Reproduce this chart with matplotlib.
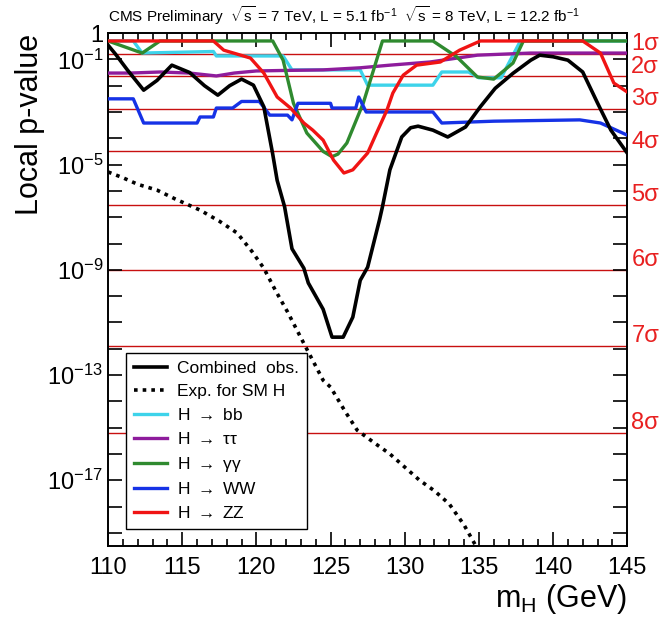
import numpy as np
import matplotlib
matplotlib.use("Agg")
import matplotlib.pyplot as plt

plt.rcParams['font.family'] = ['Liberation Sans', 'DejaVu Sans']
plt.rcParams['mathtext.fontset'] = 'custom'
plt.rcParams['mathtext.rm'] = 'Liberation Sans'
plt.rcParams['mathtext.it'] = 'Liberation Sans:italic'
plt.rcParams['mathtext.bf'] = 'Liberation Sans:bold'

# data: log10(local p-value) vs mH (GeV)
comb_m = [110, 110.5, 111.3, 112.4, 113.3, 114.3, 115.5, 116.5, 117.4, 118.2, 119.0, 119.8,
          120.5, 121.1, 121.4, 121.9, 122.4, 123.2, 123.5, 124.0, 124.5, 125.1, 125.85, 126.5,
          127.0, 127.5, 128.3, 128.5, 129.0, 129.8, 130.4, 130.9, 131.9, 132.9, 134.1, 135.1,
          136.1, 137.3, 138.5, 139.1, 140.0, 141.0, 142.0, 143.0, 143.9, 145.0]
comb_lp = [-0.46, -0.8, -1.4, -2.17, -1.8, -1.22, -1.5, -2.0, -2.36, -2.0, -1.75, -1.98,
           -2.8, -4.6, -5.6, -6.6, -8.2, -8.94, -9.5, -10.0, -10.5, -11.56, -11.56, -10.8,
           -9.4, -8.9, -7.1, -6.6, -5.2, -3.95, -3.6, -3.54, -3.69, -3.95, -3.57, -2.8,
           -2.1, -1.53, -1.03, -0.84, -0.9, -1.03, -1.48, -2.66, -3.69, -4.56]

exp_m = [110, 111, 112, 113.3, 114.5, 116.2, 117.5, 118.7, 119.7, 120.5, 121.3, 122.1, 123.2,
         124.5, 125.0, 126.0, 126.8, 128.0, 129.0, 130.0, 131.0, 132.0, 133.0, 134.0, 134.8]
exp_lp = [-5.28, -5.5, -5.75, -5.97, -6.3, -6.73, -7.15, -7.6, -8.3, -8.94, -9.8, -10.6, -11.8,
          -13.2, -13.46, -14.4, -15.1, -15.6, -16.0, -16.5, -17.0, -17.4, -17.9, -18.7, -19.5]

bb_m = [110, 111.7, 112.3, 117.1, 117.3, 121.8, 122.4, 127.0, 127.5, 131.9, 132.5, 134.3,
        135.0, 136.5, 137.8, 145]
bb_lp = [-0.3, -0.3, -0.76, -0.7, -0.87, -0.87, -1.4, -1.4, -1.98, -1.98, -1.48, -1.48,
         -1.7, -1.7, -0.3, -0.3]

tt_m = [110, 111.5, 113.5, 115.5, 117.3, 118.5, 120.0, 122.0, 124.5, 127.0, 129.0, 131.7,
        134.9, 138.5, 145]
tt_lp = [-1.52, -1.52, -1.48, -1.52, -1.63, -1.52, -1.44, -1.42, -1.4, -1.32, -1.22, -1.1,
         -0.84, -0.76, -0.76]

gg_m = [110, 112.3, 113.5, 121.1, 121.8, 122.5, 123.4, 124.5, 125.1, 125.5, 126.1, 127.2,
        127.9, 128.5, 131.9, 133.5, 134.9, 136.0, 137.3, 138.0, 145]
gg_lp = [-0.3, -0.76, -0.3, -0.3, -1.03, -2.67, -3.8, -4.5, -4.7, -4.6, -4.18, -2.67,
         -1.4, -0.3, -0.3, -0.9, -1.67, -1.75, -1.14, -0.3, -0.3]

ww_m = [110, 111.7, 112.4, 116.0, 116.2, 117.1, 117.3, 118.4, 119.0, 120.2, 120.9, 122.1,
        122.4, 122.8, 125.0, 125.1, 126.7, 126.9, 127.4, 131.9, 132.5, 136.0, 141.8, 143.2, 145.0]
ww_lp = [-2.5, -2.5, -3.42, -3.42, -3.19, -3.19, -2.85, -2.85, -2.6, -2.6, -3.12, -3.12,
         -3.3, -2.67, -2.67, -2.85, -2.85, -2.43, -3.0, -3.0, -3.42, -3.35, -3.3, -3.42, -3.88]

zz_m = [110, 117.1, 117.8, 119.6, 120.5, 121.4, 122.3, 123.2, 123.8, 124.5, 125.2, 125.9,
        126.5, 127.5, 128.1, 128.8, 129.2, 129.9, 130.8, 132.4, 133.7, 135.1, 142.0, 143.2,
        144.1, 145.0]
zz_lp = [-0.3, -0.3, -0.65, -0.95, -1.52, -2.43, -2.85, -3.42, -3.69, -4.07, -4.83, -5.32,
         -5.2, -4.56, -3.8, -2.93, -2.28, -1.6, -1.22, -1.1, -0.65, -0.3, -0.3, -0.76,
         -1.9, -2.24]

sigmas = [1, 2, 3, 4, 5, 6, 7, 8]
sigma_p = [1.587e-1, 2.275e-2, 1.35e-3, 3.17e-5, 2.87e-7, 9.87e-10, 1.28e-12, 6.22e-16]

fig = plt.figure(figsize=(6.63, 6.24), dpi=100)
ax = fig.add_axes([0.163, 0.125, 0.783, 0.822])

for p in sigma_p:
    ax.axhline(p, color='#c81010', lw=1.0, zorder=1)

arrow = r' $\rightarrow$ '
ax.plot(bb_m, 10 ** np.array(bb_lp), color='#3dd3ea', lw=2.4, label='H' + arrow + 'bb', zorder=3)
ax.plot(tt_m, 10 ** np.array(tt_lp), color='#8e1c9c', lw=2.4, label='H' + arrow + 'ττ', zorder=3)
ax.plot(gg_m, 10 ** np.array(gg_lp), color='#2f8a2f', lw=2.4, label='H' + arrow + 'γγ', zorder=3)
ax.plot(ww_m, 10 ** np.array(ww_lp), color='#1632e6', lw=2.4, label='H' + arrow + 'WW', zorder=3)
ax.plot(zz_m, 10 ** np.array(zz_lp), color='#f01414', lw=2.4, label='H' + arrow + 'ZZ', zorder=3)
ax.plot(comb_m, 10 ** np.array(comb_lp), color='black', lw=2.6, label='Combined  obs.', zorder=4)
ax.plot(exp_m, 10 ** np.array(exp_lp), color='black', lw=2.6, ls=(0, (1.0, 1.4)),
        label='Exp. for SM H', zorder=4)

ax.set_yscale('log')
ax.set_xlim(110, 145)
ax.set_ylim(10 ** -19.5, 1)

ax.set_xticks(np.arange(110, 146, 5))
ax.set_xticks(np.arange(110, 146, 1), minor=True)
ax.set_yticks([10.0 ** k for k in range(0, -20, -1)])
ax.yaxis.set_minor_locator(matplotlib.ticker.NullLocator())
labels = []
for k in range(0, -20, -1):
    if k == 0:
        labels.append('1')
    elif k in (-1, -5, -9, -13, -17):
        labels.append(r'$10^{%d}$' % k)
    else:
        labels.append('')
ax.set_yticklabels(labels)
ax.tick_params(which='both', direction='in', top=True, right=True, width=1.2)
ax.tick_params(which='major', length=10, labelsize=17)
ax.tick_params(which='minor', length=5)
ax.tick_params(axis='x', pad=8)
for s in ax.spines.values():
    s.set_linewidth(1.4)

for n, p in zip(sigmas, sigma_p):
    ax.annotate('%dσ' % n, xy=(1.0, p), xycoords=('axes fraction', 'data'),
                xytext=(3, 7), textcoords='offset points', va='center', ha='left',
                color='#e82020', fontsize=17, annotation_clip=False)

ax.set_xlabel(r'm$_{\mathrm{H}}$ (GeV)', fontsize=22, loc='right', labelpad=2)
fig.text(0.045, 0.80, 'Local p-value', rotation=90, fontsize=22, ha='center', va='center')

fig.text(0.163, 0.975, r'CMS Preliminary  $\sqrt{\mathrm{s}}$ = 7 TeV, L = 5.1 fb$^{-1}$  '
         r'$\sqrt{\mathrm{s}}$ = 8 TeV, L = 12.2 fb$^{-1}$', fontsize=11, va='center', ha='left')

handles, labs = ax.get_legend_handles_labels()
order = [5, 6, 0, 1, 2, 3, 4]
leg = ax.legend([handles[i] for i in order], [labs[i] for i in order],
                loc='lower left', bbox_to_anchor=(0.018, 0.016), fontsize=12.5,
                frameon=True, fancybox=False, edgecolor='black', framealpha=1,
                handlelength=1.9, labelspacing=0.45, borderpad=0.45, handletextpad=0.6)
leg.get_frame().set_linewidth(1.0)

fig.savefig('out.png', dpi=100)
